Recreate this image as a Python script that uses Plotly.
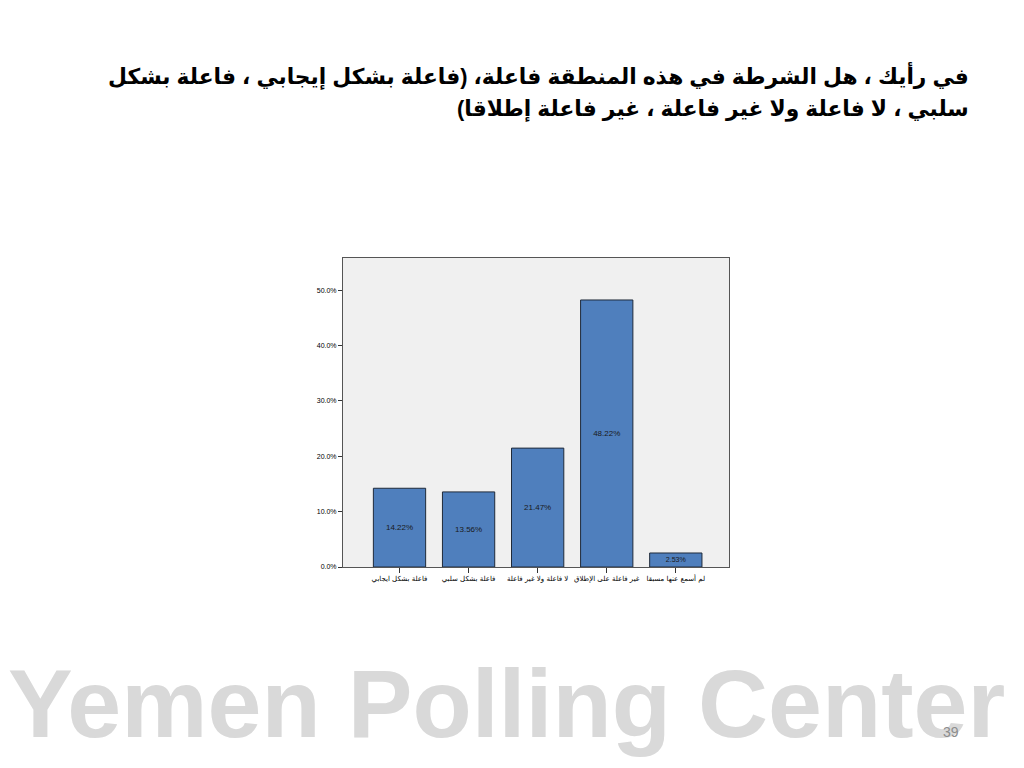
import plotly.graph_objects as go

categories = ["فاعلة بشكل ايجابي", "فاعلة بشكل سلبي", "لا فاعلة ولا غير فاعلة",
              "غير فاعلة على الإطلاق", "لم أسمع عنها مسبقا"]
values = [14.22, 13.56, 21.47, 48.22, 2.53]
value_labels = ["14.22%", "13.56%", "21.47%", "48.22%", "2.53%"]
y_ticks = [0, 10, 20, 30, 40, 50]
y_tick_labels = ["0.0%", "10.0%", "20.0%", "30.0%", "40.0%", "50.0%"]
title_line1 = "في رأيك ، هل الشرطة في هذه المنطقة فاعلة، (فاعلة بشكل إيجابي ، فاعلة بشكل"
title_line2 = "سلبي ، لا فاعلة ولا غير فاعلة ، غير فاعلة إطلاقا)"
watermark = "Yemen Polling Center"
page_number = "39"

OFF = 8  # page body margin
W, H = 1024 - OFF * 2, 768 - OFF * 2
# plot area in screen pixels
SL, SR, ST, SB = 343, 729, 258, 567
L, R, T, B = SL - OFF, SR - OFF, ST - OFF, SB - OFF

def px(x):
    return (x - OFF - L) / (R - L)

def py(y):
    return (B - (y - OFF)) / (B - T)

RLE, PDF, RLM = "\u202b", "\u202c", "\u200f"

def rtl(s):
    return RLE + RLM + s + RLM + PDF

fig = go.Figure()
fig.add_trace(go.Bar(
    x=list(range(len(categories))), y=values,
    text=value_labels, textposition="inside", insidetextanchor="middle",
    textfont=dict(size=8, color="#1a1a1a", family="Arial, Liberation Sans"),
    marker=dict(color="#4f7fbd", line=dict(color="#1f2a3a", width=1)),
    width=0.757, showlegend=False,
))

fig.update_layout(
    width=W, height=H,
    margin=dict(l=L, r=W - R, t=T, b=H - B, pad=0),
    paper_bgcolor="white", plot_bgcolor="#f0f0f0",
    font=dict(family="Arial, Liberation Sans, DejaVu Sans", color="black"),
    xaxis=dict(range=[-0.818, 4.77], tickmode="array",
               tickvals=list(range(len(categories))),
               ticktext=[rtl(c) for c in categories],
               ticks="outside", ticklen=5, tickcolor="#333", showgrid=False,
               showline=True, linecolor="#555", linewidth=1, mirror=True,
               tickfont=dict(size=7, family="DejaVu Sans, Arial"), zeroline=False),
    yaxis=dict(range=[0, 55.8], tickmode="array", tickvals=y_ticks,
               ticktext=y_tick_labels, ticks="outside", ticklen=4, tickcolor="#333",
               showgrid=False, showline=True, linecolor="#555", linewidth=1,
               mirror=True, tickfont=dict(size=7), zeroline=False),
    annotations=[
        dict(text="<b>" + rtl(title_line1) + "</b>", xref="paper", yref="paper",
             x=px(971), y=py(75), xanchor="right", yanchor="middle",
             showarrow=False, font=dict(size=21.8, color="black",
                                        family="Arial, Liberation Sans, DejaVu Sans")),
        dict(text="<b>" + rtl(title_line2) + "</b>", xref="paper", yref="paper",
             x=px(971), y=py(109), xanchor="right", yanchor="middle",
             showarrow=False, font=dict(size=21.8, color="black",
                                        family="Arial, Liberation Sans, DejaVu Sans")),
        dict(text="<b>" + watermark + "</b>", xref="paper", yref="paper",
             x=px(506), y=py(703), xanchor="center", yanchor="middle",
             showarrow=False, font=dict(size=97, color="#d9d9d9",
                                        family="Liberation Sans, Arial")),
        dict(text=page_number, xref="paper", yref="paper",
             x=px(961), y=py(732), xanchor="right", yanchor="middle",
             showarrow=False, font=dict(size=14, color="#8c8c8c",
                                        family="Liberation Sans, Arial")),
    ],
)

fig.write_html("out.html")
